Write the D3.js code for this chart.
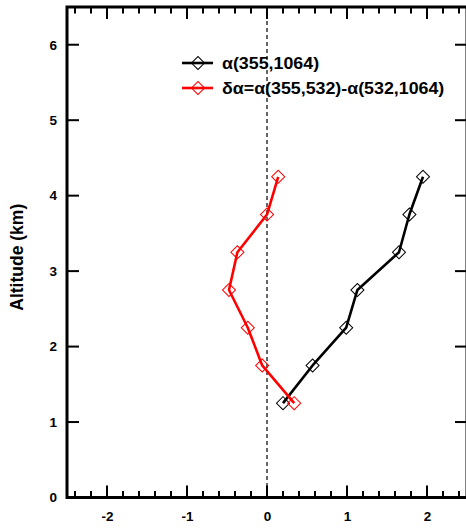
<!DOCTYPE html>
<html>
<head>
<meta charset="utf-8">
<script src="https://cdn.jsdelivr.net/npm/d3@7"></script>
<style>
  html, body { margin: 0; padding: 0; background: #fff; }
  svg { display: block; }
  text { font-family: "Liberation Sans", Arial, sans-serif; font-weight: bold; }
</style>
</head>
<body>
<svg id="chart" width="466" height="529"></svg>
<script>
// ---- data ----
const altitudes = [1.25, 1.75, 2.25, 2.75, 3.25, 3.75, 4.25];
const alphaValues = [0.20, 0.57, 0.99, 1.13, 1.65, 1.78, 1.95];
const deltaAlphaValues = [0.34, -0.06, -0.24, -0.475, -0.37, 0.00, 0.14];
const xTickLabels = [-2, -1, 0, 1, 2];
const yTickLabels = [0, 1, 2, 3, 4, 5, 6];
const seriesNames = ["α(355,1064)", "δα=α(355,532)-α(532,1064)"];
const seriesColors = ["#000000", "#ff0000"];

(function () {
// ---- layout ----
const svg = d3.select("#chart");
const pLeft = 67, pRight = 467, pTop = 7, pBottom = 497.5;
const x = d3.scaleLinear().domain([-2.5, 2.5]).range([pLeft, pRight]);
const y = d3.scaleLinear().domain([0, 6.5]).range([pBottom, pTop]);

const minorX = d3.range(-2.4, 2.5, 0.2).map(v => Math.round(v * 10) / 10)
  .filter(v => !xTickLabels.includes(v));

// zero dashed line
svg.append("line")
  .attr("x1", x(0)).attr("x2", x(0))
  .attr("y1", y(6.5)).attr("y2", y(0))
  .attr("stroke", "#666").attr("stroke-width", 2)
  .attr("stroke-dasharray", "4,3");

// axes
const gB = svg.append("g").attr("transform", `translate(0,${pBottom})`);
gB.call(d3.axisBottom(x).tickValues(xTickLabels).tickSize(0).tickPadding(14).tickFormat(d => String(d)))
  .call(g => g.select(".domain").remove());
gB.selectAll("text").attr("font-size", 13.5).attr("fill", "#000").style("font-family", "Liberation Sans, Arial, sans-serif").style("font-weight", "bold");

function xTicks(g, dir) {
  g.selectAll("line.maj").data(xTickLabels).enter().append("line")
    .attr("x1", d => x(d)).attr("x2", d => x(d))
    .attr("y1", 0).attr("y2", dir * 12)
    .attr("stroke", "#000").attr("stroke-width", 2);
  g.selectAll("line.min").data(minorX).enter().append("line")
    .attr("x1", d => x(d)).attr("x2", d => x(d))
    .attr("y1", 0).attr("y2", dir * 6.5)
    .attr("stroke", "#000").attr("stroke-width", 2);
}
svg.append("g").attr("transform", `translate(0,${pBottom})`).call(g => xTicks(g, -1));
svg.append("g").attr("transform", `translate(0,${pTop})`).call(g => xTicks(g, 1));

const gL = svg.append("g").attr("transform", `translate(${pLeft},0)`);
gL.call(d3.axisLeft(y).tickValues(yTickLabels).tickSize(0).tickPadding(10).tickFormat(d => String(d)))
  .call(g => g.select(".domain").remove());
gL.selectAll("text").attr("font-size", 13.5).attr("fill", "#000").style("font-family", "Liberation Sans, Arial, sans-serif").style("font-weight", "bold");

function yTicks(g, dir) {
  g.selectAll("line.maj").data(yTickLabels.filter(v => v > 0)).enter().append("line")
    .attr("y1", d => y(d)).attr("y2", d => y(d))
    .attr("x1", 0).attr("x2", dir * 12)
    .attr("stroke", "#000").attr("stroke-width", 2);
}
svg.append("g").attr("transform", `translate(${pLeft},0)`).call(g => yTicks(g, 1));
svg.append("g").attr("transform", `translate(${pRight},0)`).call(g => yTicks(g, -1));

// frame
svg.append("rect")
  .attr("x", pLeft).attr("y", pTop)
  .attr("width", pRight - pLeft).attr("height", pBottom - pTop)
  .attr("fill", "none").attr("stroke", "#000").attr("stroke-width", 3);

// y label
svg.append("text")
  .attr("transform", `translate(23,${(pTop + pBottom) / 2 + 5}) rotate(-90)`)
  .attr("text-anchor", "middle")
  .attr("font-size", 17.5)
  .text("Altitude (km)");

// series
const series = [alphaValues, deltaAlphaValues];
const line = d3.line().x(d => x(d[0])).y(d => y(d[1]));

series.forEach((vals, i) => {
  const pts = vals.map((v, j) => [v, altitudes[j]]);
  svg.append("path").datum(pts)
    .attr("d", line).attr("fill", "none")
    .attr("stroke", seriesColors[i]).attr("stroke-width", 2.6)
    .attr("stroke-linejoin", "round");
  svg.selectAll(null).data(pts).enter().append("path")
    .attr("d", d3.symbol().type(d3.symbolSquare).size(85))
    .attr("transform", d => `translate(${x(d[0])},${y(d[1])}) rotate(45)`)
    .attr("fill", "none").attr("stroke", seriesColors[i]).attr("stroke-width", 1);
});

// legend
const legY = [63, 88];
seriesNames.forEach((name, i) => {
  const g = svg.append("g").attr("transform", `translate(0,${legY[i]})`);
  g.append("line").attr("x1", 182).attr("x2", 213).attr("y1", 0).attr("y2", 0)
    .attr("stroke", seriesColors[i]).attr("stroke-width", 2.6);
  g.append("path").attr("d", d3.symbol().type(d3.symbolSquare).size(85)())
    .attr("transform", "translate(198,0) rotate(45)")
    .attr("fill", "none").attr("stroke", seriesColors[i]).attr("stroke-width", 1);
  g.append("text").attr("transform", "translate(222,6) scale(1.08,1)")
    .attr("font-size", 16.5).text(name);
});
})();
</script>
</body>
</html>
